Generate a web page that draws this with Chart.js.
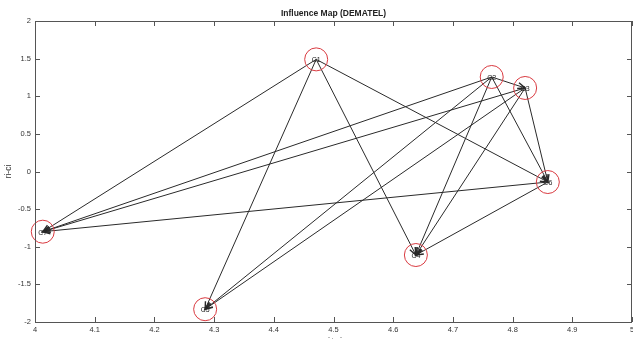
<!DOCTYPE html>
<html>
<head>
  <title>Influence Map (DEMATEL)</title>
  <script src="https://cdn.jsdelivr.net/npm/chart.js"></script>
  <style>
    body { margin: 0; background: #fff; overflow: hidden; }
  </style>
</head>
<body>
  <canvas id="mapChart" width="633" height="339"></canvas>

  <script>
    // criteria positions: x = ri+ci, y = ri-ci
    const nodeNames = ['C1', 'C2', 'C3', 'C4', 'C5', 'C6', 'C7'];
    const nodeX = [4.471, 4.765, 4.821, 4.638, 4.285, 4.859, 4.013];
    const nodeY = [1.49, 1.256, 1.11, -1.11, -1.83, -0.14, -0.80];

    // influence arrows (from -> to)
    const edgeFrom = ['C1', 'C1', 'C1', 'C1', 'C2', 'C2', 'C2', 'C2', 'C2', 'C3', 'C3', 'C3', 'C3', 'C6', 'C6'];
    const edgeTo   = ['C7', 'C5', 'C4', 'C6', 'C3', 'C7', 'C5', 'C4', 'C6', 'C7', 'C5', 'C4', 'C6', 'C7', 'C4'];

    const xTicks = [4, 4.1, 4.2, 4.3, 4.4, 4.5, 4.6, 4.7, 4.8, 4.9, 5];
    const yTicks = [-2, -1.5, -1, -0.5, 0, 0.5, 1, 1.5, 2];

    const chartTitle = 'Influence Map (DEMATEL)';
    const xTitle = 'ri+ci';
    const yTitle = 'ri-ci';

    function nodePixel(chart, name) {
      const i = nodeNames.indexOf(name);
      return {
        x: chart.scales.x.getPixelForValue(nodeX[i]),
        y: chart.scales.y.getPixelForValue(nodeY[i])
      };
    }

    const arrowPlugin = {
      id: 'arrows',
      beforeDatasetsDraw(chart) {
        const ctx = chart.ctx;
        ctx.save();
        ctx.strokeStyle = '#2a2a2a';
        ctx.lineWidth = 1;
        for (let k = 0; k < edgeFrom.length; k++) {
          const a = nodePixel(chart, edgeFrom[k]);
          const b = nodePixel(chart, edgeTo[k]);
          ctx.beginPath();
          ctx.moveTo(a.x, a.y);
          ctx.lineTo(b.x, b.y);
          ctx.stroke();

          const ang = Math.atan2(b.y - a.y, b.x - a.x);
          const len = 8, spread = 0.38;
          ctx.beginPath();
          ctx.moveTo(b.x - len * Math.cos(ang - spread), b.y - len * Math.sin(ang - spread));
          ctx.lineTo(b.x, b.y);
          ctx.lineTo(b.x - len * Math.cos(ang + spread), b.y - len * Math.sin(ang + spread));
          ctx.lineWidth = 1.4;
          ctx.stroke();
          ctx.lineWidth = 1;
        }
        ctx.restore();
      },
      afterDatasetsDraw(chart) {
        const ctx = chart.ctx;
        ctx.save();
        ctx.fillStyle = '#222';
        ctx.font = '7px "Liberation Sans", Arial, sans-serif';
        ctx.textAlign = 'center';
        ctx.textBaseline = 'middle';
        nodeNames.forEach(n => {
          const p = nodePixel(chart, n);
          ctx.fillText(n, p.x, p.y + 1);
        });
        ctx.restore();
      }
    };

    // matlab style box with inward ticks, plus titles
    const boxPlugin = {
      id: 'box',
      afterDraw(chart) {
        const { ctx, chartArea: a, scales: { x, y } } = chart;
        ctx.save();
        ctx.strokeStyle = '#555';
        ctx.lineWidth = 1;
        ctx.strokeRect(a.left + 0.5, a.top + 0.5, a.right - a.left - 1, a.bottom - a.top);
        ctx.beginPath();
        xTicks.forEach(v => {
          const px = Math.round(x.getPixelForValue(v)) + 0.5;
          ctx.moveTo(px, a.bottom); ctx.lineTo(px, a.bottom - 5);
          ctx.moveTo(px, a.top); ctx.lineTo(px, a.top + 5);
        });
        yTicks.forEach(v => {
          const py = Math.round(y.getPixelForValue(v)) + 0.5;
          ctx.moveTo(a.left, py); ctx.lineTo(a.left + 5, py);
          ctx.moveTo(a.right, py); ctx.lineTo(a.right - 5, py);
        });
        ctx.stroke();

        ctx.fillStyle = '#222';
        ctx.textAlign = 'center';
        ctx.font = 'bold 8.5px "Liberation Sans", Arial, sans-serif';
        ctx.textBaseline = 'middle';
        ctx.fillText(chartTitle, (a.left + a.right) / 2, 14);
        ctx.font = '9px "Liberation Sans", Arial, sans-serif';
        ctx.textBaseline = 'top';
        ctx.fillText(xTitle, (a.left + a.right) / 2, 337);
        ctx.restore();
      }
    };

    const ctx = document.getElementById('mapChart').getContext('2d');
    new Chart(ctx, {
      type: 'scatter',
      data: {
        datasets: [{
          data: nodeX.map((v, i) => ({ x: v, y: nodeY[i] })),
          pointRadius: 11.5,
          pointBorderWidth: 1,
          pointBorderColor: '#d93a40',
          pointBackgroundColor: 'rgba(0,0,0,0)',
          clip: false
        }]
      },
      options: {
        responsive: false,
        devicePixelRatio: 1,
        animation: false,
        layout: { autoPadding: false, padding: { top: 21, right: 1, left: 0, bottom: 0 } },
        plugins: {
          legend: { display: false },
          tooltip: { enabled: false }
        },
        scales: {
          x: {
            type: 'linear',
            min: 4,
            max: 5,
            afterBuildTicks: s => { s.ticks = xTicks.map(v => ({ value: v })); },
            afterFit: s => { s.height = 17; s.paddingLeft = 0; s.paddingRight = 0; },
            grid: { display: false, drawTicks: false },
            border: { display: false },
            ticks: {
              padding: 3,
              color: '#333',
              font: { size: 7.5, family: '"Liberation Sans", Arial, sans-serif' },
              callback: v => String(v)
            }
          },
          y: {
            type: 'linear',
            min: -2,
            max: 2,
            afterBuildTicks: s => { s.ticks = yTicks.map(v => ({ value: v })); },
            afterFit: s => { s.width = 35; s.paddingTop = 0; s.paddingBottom = 0; },
            grid: { display: false, drawTicks: false },
            border: { display: false },
            title: {
              display: true,
              text: yTitle,
              color: '#333',
              padding: { top: 4, bottom: 0 },
              font: { size: 8.5, family: '"Liberation Sans", Arial, sans-serif' }
            },
            ticks: {
              padding: 4,
              color: '#333',
              font: { size: 7.5, family: '"Liberation Sans", Arial, sans-serif' },
              callback: v => String(v)
            }
          }
        }
      },
      plugins: [arrowPlugin, boxPlugin]
    });
  </script>
</body>
</html>
